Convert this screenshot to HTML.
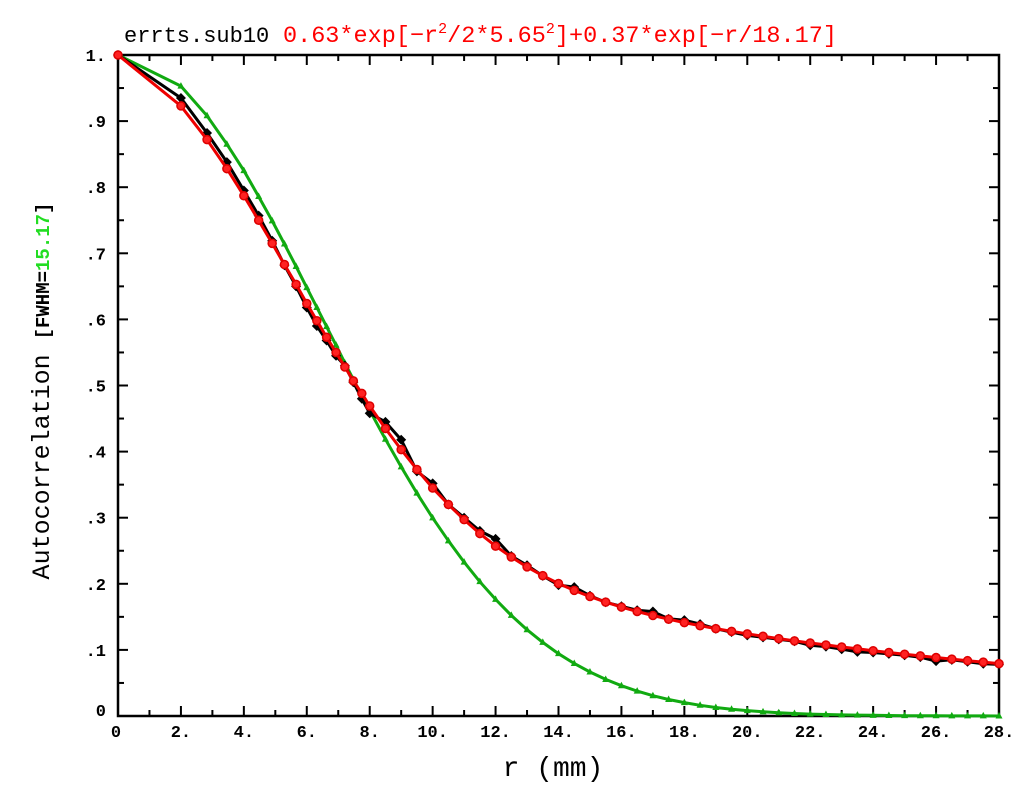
<!DOCTYPE html>
<html><head><meta charset="utf-8">
<style>
html,body{margin:0;padding:0;background:#fff;}
svg{display:block;}
</style></head>
<body>
<svg id="chart" width="1024" height="787" viewBox="0 0 1024 787" xmlns="http://www.w3.org/2000/svg">
<g id="title">
<text x="124" y="42" style="font-family:'Liberation Mono',monospace;font-size:22px" fill="#000">errts.sub10</text>
<text x="283" y="42" style="font-family:'Liberation Mono',monospace;font-size:23.5px" fill="#ff0000">0.63*exp[−r<tspan dy="-9" style="font-size:15px">2</tspan><tspan dy="9">/2*5.65</tspan><tspan dy="-9" style="font-size:15px">2</tspan><tspan dy="9">]+0.37*exp[−r/18.17]</tspan></text>
</g>
<text transform="translate(49,391) rotate(-90)" text-anchor="middle" style="font-family:'Liberation Mono',monospace;font-size:25px" fill="#000">Autocorrelation <tspan style="font-size:19px;font-weight:bold">[FWHM=</tspan><tspan style="font-size:19px;font-weight:bold" fill="#22dd22">15.17</tspan><tspan style="font-size:19px;font-weight:bold">]</tspan></text>
<text x="553" y="776" text-anchor="middle" style="font-family:'Liberation Mono',monospace;font-size:28px" fill="#000">r (mm)</text>
<g id="axes"></g>
<g id="series"></g>
</svg>
<script>
const rVals=[0,2,2.83,3.46,4,4.47,4.9,5.29,5.66,6,6.32,6.63,6.93,7.21,7.48,7.75,8,8.5,9,9.5,10,10.5,11,11.5,12,12.5,13,13.5,14,14.5,15,15.5,16,16.5,17,17.5,18,18.5,19,19.5,20,20.5,21,21.5,22,22.5,23,23.5,24,24.5,25,25.5,26,26.5,27,27.5,28];
const fitVals=[1,0.923,0.872,0.828,0.787,0.750,0.715,0.683,0.653,0.624,0.598,0.573,0.550,0.528,0.507,0.488,0.469,0.435,0.403,0.373,0.345,0.320,0.297,0.276,0.257,0.2405,0.2256,0.2123,0.2004,0.190,0.1807,0.1723,0.1648,0.1581,0.152,0.1464,0.1413,0.1366,0.1322,0.1281,0.1243,0.1206,0.1171,0.1137,0.1105,0.1075,0.1044,0.1016,0.0988,0.0961,0.0935,0.0909,0.0885,0.0861,0.0837,0.0815,0.0792];
const dataVals=[1,0.935,0.882,0.838,0.795,0.757,0.719,0.682,0.650,0.618,0.590,0.568,0.545,0.530,0.505,0.480,0.458,0.445,0.418,0.370,0.352,0.320,0.300,0.280,0.268,0.242,0.228,0.212,0.198,0.195,0.182,0.172,0.166,0.160,0.158,0.147,0.145,0.139,0.132,0.127,0.122,0.119,0.116,0.113,0.107,0.105,0.101,0.097,0.096,0.094,0.092,0.089,0.083,0.085,0.082,0.079,0.078];
const gaussVals=[1,0.953,0.908,0.865,0.825,0.786,0.749,0.714,0.680,0.648,0.618,0.589,0.561,0.534,0.509,0.485,0.4625,0.4187,0.3769,0.3371,0.2998,0.265,0.2328,0.2032,0.1764,0.1522,0.1305,0.1113,0.0943,0.0794,0.0665,0.0553,0.0458,0.0376,0.0307,0.025,0.0202,0.0162,0.0129,0.0102,0.0081,0.0063,0.0049,0.0038,0.0029,0.0022,0.0017,0.0013,0.001,0.0007,0.0005,0.0004,0.0003,0.0002,0.0001,0.0001,0];
const xTickLabels=["0","2.","4.","6.","8.","10.","12.","14.","16.","18.","20.","22.","24.","26.","28."];
const yTickLabels=["0",".1",".2",".3",".4",".5",".6",".7",".8",".9","1."];

const NS="http://www.w3.org/2000/svg";
const X0=118,X1=999,Y0=716,Y1=55;
const xs=v=>X0+(X1-X0)*v/28;
const ys=v=>Y0-(Y0-Y1)*v/1.0;
const TICKFONT="font-family:'Liberation Mono',monospace;font-size:17px;font-weight:bold";
function mk(tag,attrs,parent){const e=document.createElementNS(NS,tag);for(const k in attrs)e.setAttribute(k,attrs[k]);parent.appendChild(e);return e;}
const axes=document.getElementById('axes');
const frame=mk('rect',{x:X0,y:Y1,width:X1-X0,height:Y0-Y1,fill:'none',stroke:'#000','stroke-width':2.5},axes);


for(let i=0;i<=28;i++){
  const x=xs(i),len=(i%2===0)?10:6;
  const t1=mk('line',{x1:x,y1:Y0,x2:x,y2:Y0-len,stroke:'#000','stroke-width':2},axes);
  
  
  const t2=mk('line',{x1:x,y1:Y1,x2:x,y2:Y1+len,stroke:'#000','stroke-width':2},axes);
  
  
}
xTickLabels.forEach((s,i)=>{
  const t=mk('text',{x:xs(i*2)+(i===0?-2:0),y:Y0+21,'text-anchor':'middle',style:TICKFONT,fill:'#000'},axes);
  t.textContent=s;
  
  
});
for(let i=0;i<=20;i++){
  const y=ys(i*0.05),len=(i%2===0)?10:6;
  const t1=mk('line',{x1:X0,y1:y,x2:X0+len,y2:y,stroke:'#000','stroke-width':2},axes);
  
  
  const t2=mk('line',{x1:X1,y1:y,x2:X1-len,y2:y,stroke:'#000','stroke-width':2},axes);
  
  
}
yTickLabels.forEach((s,i)=>{
  const t=mk('text',{x:106,y:ys(i*0.1)+6-(i===0?6:0),'text-anchor':'end',style:TICKFONT,fill:'#000'},axes);
  t.textContent=s;
  
  
});
const series=document.getElementById('series');
function pts(vals){return rVals.map((r,i)=>xs(r).toFixed(1)+','+ys(vals[i]).toFixed(1)).join(' ');}
const gl=mk('polyline',{points:pts(gaussVals),fill:'none',stroke:'#11aa11','stroke-width':3},series);


rVals.forEach((r,i)=>{
  const x=xs(r),y=ys(gaussVals[i]);
  const m=mk('polygon',{points:`${x},${y-4} ${x-3.5},${y+2.5} ${x+3.5},${y+2.5}`,fill:'#11aa11'},series);
  
  
});
const bl=mk('polyline',{points:pts(dataVals),fill:'none',stroke:'#000','stroke-width':3},series);


rVals.forEach((r,i)=>{
  const x=xs(r),y=ys(dataVals[i]);
  const m=mk('polygon',{points:`${x},${y-5} ${x-5},${y} ${x},${y+5} ${x+5},${y}`,fill:'#000'},series);
  
  
});
const rl=mk('polyline',{points:pts(fitVals),fill:'none',stroke:'#ee0000','stroke-width':3},series);


rVals.forEach((r,i)=>{
  const m=mk('circle',{cx:xs(r),cy:ys(fitVals[i]),r:4,fill:'#ff2222',stroke:'#dd0000','stroke-width':1.5},series);
  
  
});
</script>
</body></html>
